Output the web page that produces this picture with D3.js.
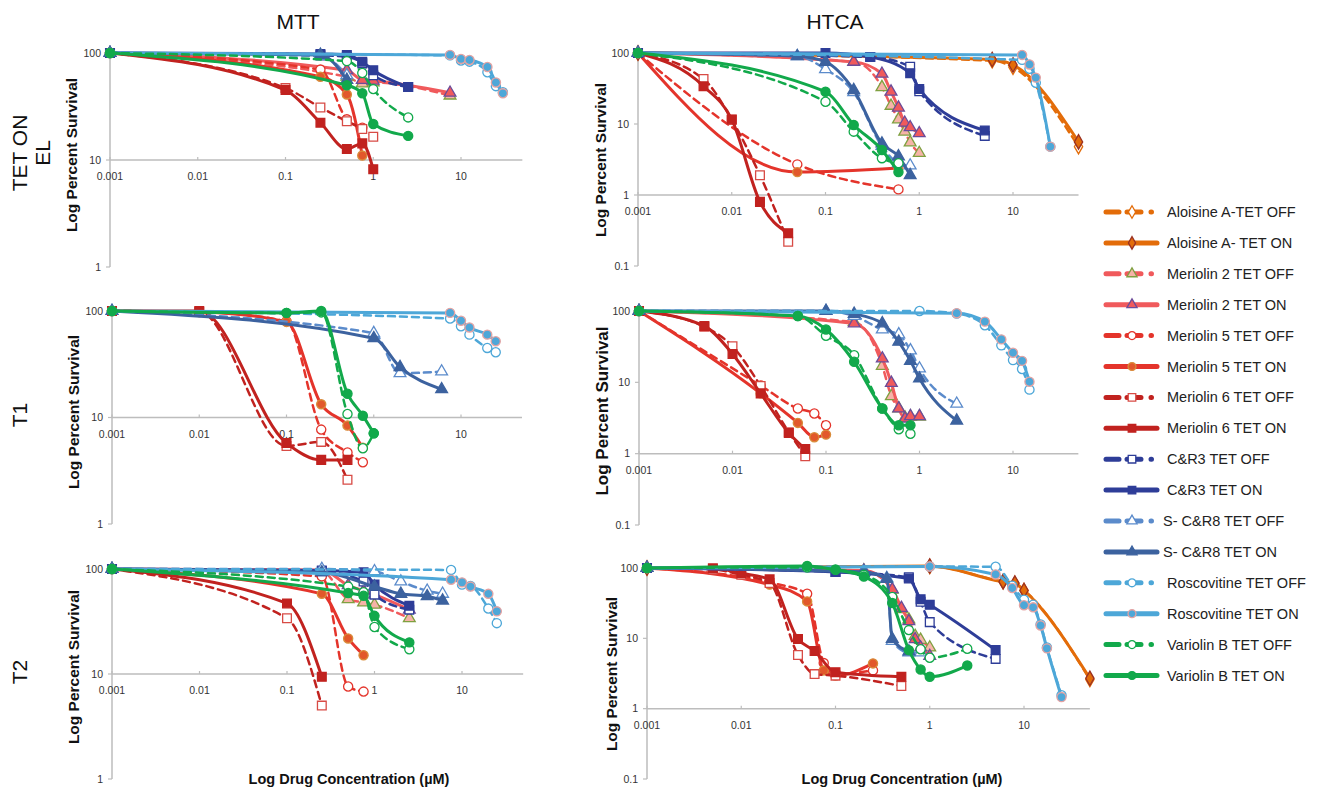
<!DOCTYPE html>
<html>
<head>
<meta charset="utf-8">
<script src="https://cdn.jsdelivr.net/npm/d3@7"></script>
<style>
  body { margin: 0; background: #fff; }
  svg text { font-family: Arial, "Liberation Sans", Helvetica, sans-serif; }
</style>
</head>
<body>
<svg id="chart" width="1320" height="790"></svg>
<script>
// series, in legend order
const seriesNames = [
  'Aloisine A-TET OFF', 'Aloisine A- TET ON',
  'Meriolin 2 TET OFF', 'Meriolin 2 TET ON',
  'Meriolin 5 TET OFF', 'Meriolin 5 TET ON',
  'Meriolin 6 TET OFF', 'Meriolin 6 TET ON',
  'C&R3 TET OFF', 'C&R3 TET ON',
  'S- C&R8 TET OFF', 'S- C&R8 TET ON',
  'Roscovitine TET OFF', 'Roscovitine TET ON',
  'Variolin B TET OFF', 'Variolin B TET ON'
];

const xTicks = [0.001, 0.01, 0.1, 1, 10];
const mttYTicks = [1, 10, 100];
const htcaYTicks = [0.1, 1, 10, 100];

// [concentration uM, percent survival]
const mttEL = {
  'Meriolin 2 TET OFF': [[0.001,100],[0.5,60],[0.75,52],[1,53],[7.5,40]],
  'Meriolin 2 TET ON': [[0.001,100],[0.5,69],[0.75,56],[1,55],[7.5,42.5]],
  'Meriolin 5 TET OFF': [[0.001,100],[0.25,70],[0.5,24],[0.75,20]],
  'Meriolin 5 TET ON': [[0.001,100],[0.25,60],[0.5,41],[0.75,11]],
  'Meriolin 6 TET OFF': [[0.001,100],[0.1,47],[0.25,31],[0.5,23],[0.75,19.5],[1,16.5]],
  'Meriolin 6 TET ON': [[0.001,100],[0.1,45],[0.25,22.3],[0.5,12.7],[0.75,14.3],[1,8.2]],
  'C&R3 TET OFF': [[0.001,100],[0.25,95],[0.5,92],[0.75,80],[1,62],[2.5,48]],
  'C&R3 TET ON': [[0.001,100],[0.25,98],[0.5,96],[0.75,83],[1,69],[2.5,48]],
  'S- C&R8 TET OFF': [[0.001,100],[0.25,94],[0.5,62]],
  'S- C&R8 TET ON': [[0.001,100],[0.25,96],[0.5,56]],
  'Roscovitine TET OFF': [[0.001,100],[7.5,95],[10,85],[12.5,83],[20,66],[25,49],[30,43]],
  'Roscovitine TET ON': [[0.001,100],[7.5,96],[10,88],[12.5,86],[20,74],[25,53],[30,42]],
  'Variolin B TET OFF': [[0.001,100],[0.5,84],[0.75,65],[1,46],[2.5,25]],
  'Variolin B TET ON': [[0.001,100],[0.5,50],[0.75,42],[1,21.7],[2.5,16.8]]
};

const htcaEL = {
  'Aloisine A-TET OFF': [[0.001,100],[6,78],[10,63],[50,4.8]],
  'Aloisine A- TET ON': [[0.001,100],[6,81],[10,68],[50,5.6]],
  'Meriolin 2 TET OFF': [[0.001,100],[0.2,75],[0.4,33],[0.5,18],[0.6,11.6],[0.7,7.8],[0.8,5.5],[1,3.9]],
  'Meriolin 2 TET ON': [[0.001,100],[0.2,75],[0.4,51],[0.5,28.5],[0.6,17],[0.7,10.4],[0.8,9],[1,7.4]],
  'Meriolin 5 TET OFF': [[0.001,100],[0.05,2.7],[0.6,1.2]],
  'Meriolin 5 TET ON': [[0.001,100],[0.05,2.1],[0.6,2.4]],
  'Meriolin 6 TET OFF': [[0.001,100],[0.005,43],[0.01,11.5],[0.02,1.9],[0.04,0.22]],
  'Meriolin 6 TET ON': [[0.001,100],[0.005,34],[0.01,11.6],[0.02,0.8],[0.04,0.29]],
  'C&R3 TET OFF': [[0.001,100],[0.3,88],[0.8,64],[1,29],[5,6.8]],
  'C&R3 TET ON': [[0.001,100],[0.1,100],[0.3,88],[0.8,52],[1,31],[5,8.1]],
  'S- C&R8 TET OFF': [[0.001,100],[0.05,90],[0.1,59],[0.2,28],[0.4,4.9],[0.6,2.8],[0.8,2.6]],
  'S- C&R8 TET ON': [[0.001,100],[0.05,90],[0.1,75],[0.2,30],[0.4,5.3],[0.6,3.5],[0.8,1.9]],
  'Roscovitine TET OFF': [[0.001,100],[12.5,80],[15,60],[17.5,38],[25,4.8]],
  'Roscovitine TET ON': [[0.001,100],[12.5,94],[15,69],[17.5,45],[25,4.8]],
  'Variolin B TET OFF': [[0.001,100],[0.1,20.6],[0.2,7.8],[0.4,3.3],[0.6,2.8]],
  'Variolin B TET ON': [[0.001,100],[0.1,28.5],[0.2,9.7],[0.4,4.3],[0.6,2.1]]
};

const mttT1 = {
  'Meriolin 5 TET OFF': [[0.001,100],[0.01,98],[0.1,80],[0.25,7.7],[0.5,4.7],[0.75,3.8]],
  'Meriolin 5 TET ON': [[0.001,100],[0.01,98],[0.1,79],[0.25,13.3],[0.5,8.4],[0.75,5.2]],
  'Meriolin 6 TET OFF': [[0.001,100],[0.01,98],[0.1,5.4],[0.25,5.9],[0.5,2.6]],
  'Meriolin 6 TET ON': [[0.001,100],[0.01,100],[0.1,5.75],[0.25,4.0],[0.5,4.0]],
  'S- C&R8 TET OFF': [[0.001,100],[1,62],[2,26],[6,27]],
  'S- C&R8 TET ON': [[0.001,100],[1,55.5],[2,29.7],[6,18.4]],
  'Roscovitine TET OFF': [[0.001,100],[7.5,85],[10,72],[12.5,60],[20,45],[25,41]],
  'Roscovitine TET ON': [[0.001,100],[7.5,96],[10,81],[12.5,70],[20,60],[25,52]],
  'Variolin B TET OFF': [[0.001,100],[0.1,96],[0.25,97],[0.5,10.8],[0.75,5.15],[1,7.1]],
  'Variolin B TET ON': [[0.001,100],[0.1,96],[0.25,100],[0.5,16.7],[0.75,10.4],[1,7.1]]
};

const htcaT1 = {
  'Meriolin 2 TET OFF': [[0.001,100],[0.2,70],[0.4,17],[0.5,6.4],[0.6,4.3],[0.7,3.2],[0.8,3.3],[1,3.3]],
  'Meriolin 2 TET ON': [[0.001,100],[0.2,67],[0.4,21.6],[0.5,9.8],[0.6,4.3],[0.7,3.1],[0.8,3.35],[1,3.35]],
  'Meriolin 5 TET OFF': [[0.001,100],[0.02,9],[0.05,4.3],[0.075,3.65],[0.1,2.5]],
  'Meriolin 5 TET ON': [[0.001,100],[0.02,7],[0.05,2.7],[0.075,1.7],[0.1,1.85]],
  'Meriolin 6 TET OFF': [[0.001,100],[0.005,60],[0.01,32],[0.02,8.9],[0.04,2.0],[0.06,0.92]],
  'Meriolin 6 TET ON': [[0.001,100],[0.005,61.5],[0.01,25],[0.02,7],[0.04,1.95],[0.06,1.16]],
  'S- C&R8 TET OFF': [[0.001,100],[0.1,100],[0.2,85],[0.4,55],[0.6,47],[0.8,28],[1,15.6],[2.5,5]],
  'S- C&R8 TET ON': [[0.001,100],[0.1,100],[0.2,91],[0.4,67],[0.6,37],[0.8,20],[1,11.3],[2.5,2.9]],
  'Roscovitine TET OFF': [[0.001,100],[1,100],[2.5,92],[5,63],[7.5,33],[10,20.5],[12.5,15.4],[15,7.9]],
  'Roscovitine TET ON': [[0.001,100],[2.5,93],[5,71],[7.5,40],[10,26],[12.5,20],[15,10.2]],
  'Variolin B TET OFF': [[0.001,100],[0.05,85],[0.1,45],[0.2,24],[0.4,4.3],[0.6,2.2],[0.8,1.9]],
  'Variolin B TET ON': [[0.001,100],[0.05,85],[0.1,55],[0.2,19.4],[0.4,4.3],[0.6,2.5],[0.8,2.5]]
};

const mttT2 = {
  'Meriolin 2 TET OFF': [[0.001,100],[0.25,95],[0.5,51.6],[0.75,48],[1,45.6],[2.5,34]],
  'Meriolin 2 TET ON': [[0.001,100],[0.25,98],[0.5,70],[0.75,62],[1,57],[2.5,41]],
  'Meriolin 5 TET OFF': [[0.001,100],[0.25,85],[0.5,7.6],[0.75,6.8]],
  'Meriolin 5 TET ON': [[0.001,100],[0.25,58],[0.5,21.8],[0.75,15.1]],
  'Meriolin 6 TET OFF': [[0.001,100],[0.1,34],[0.25,5.0]],
  'Meriolin 6 TET ON': [[0.001,100],[0.1,47],[0.25,9.4]],
  'C&R3 TET OFF': [[0.001,100],[0.25,95],[0.75,76],[1,57],[2.5,41]],
  'C&R3 TET ON': [[0.001,100],[0.25,97],[0.75,93],[1,71],[2.5,44.7]],
  'S- C&R8 TET OFF': [[0.001,100],[0.25,100],[1,95],[2,76],[4,62],[6,58]],
  'S- C&R8 TET ON': [[0.001,100],[0.25,93],[1,68],[2,58],[4,55],[6,50]],
  'Roscovitine TET OFF': [[0.001,100],[7.5,98],[10,71],[12.5,69],[20,42],[25,30.5]],
  'Roscovitine TET ON': [[0.001,100],[7.5,79],[10,74.6],[12.5,68],[20,58],[25,39.5]],
  'Variolin B TET OFF': [[0.001,100],[0.5,68],[0.75,60],[1,28],[2.5,17.2]],
  'Variolin B TET ON': [[0.001,100],[0.5,59],[0.75,55.6],[1,35.8],[2.5,20]]
};

const htcaT2 = {
  'Aloisine A-TET OFF': [[0.001,100],[1,105],[6,64],[8,60],[10,48],[50,2.6]],
  'Aloisine A- TET ON': [[0.001,100],[1,107],[6,64],[8,61],[10,48],[50,2.7]],
  'Meriolin 2 TET OFF': [[0.001,100],[0.2,92],[0.4,49],[0.5,26],[0.6,18.5],[0.7,10.8],[0.8,9.5],[1,7.4]],
  'Meriolin 2 TET ON': [[0.001,100],[0.2,92],[0.4,50],[0.5,27],[0.6,17.5],[0.7,9.7],[0.8,7.4],[1,5.6]],
  'Meriolin 5 TET OFF': [[0.001,100],[0.02,62],[0.05,43],[0.075,4.45],[0.1,3.1],[0.25,3.5]],
  'Meriolin 5 TET ON': [[0.001,100],[0.02,58],[0.05,33.5],[0.075,3.5],[0.1,2.95],[0.25,4.4]],
  'Meriolin 6 TET OFF': [[0.001,100],[0.005,95],[0.01,80],[0.02,61],[0.04,5.8],[0.06,3.1],[0.1,2.95],[0.5,2.1]],
  'Meriolin 6 TET ON': [[0.001,100],[0.005,99],[0.01,84],[0.02,69],[0.04,9.8],[0.06,6.6],[0.1,3.3],[0.5,2.85]],
  'C&R3 TET OFF': [[0.001,100],[0.1,88],[0.6,74],[0.8,33],[1,17],[5,5.1]],
  'C&R3 TET ON': [[0.001,100],[0.1,88],[0.6,71],[0.8,36],[1,30],[5,6.8]],
  'S- C&R8 TET OFF': [[0.001,100],[0.2,88],[0.35,72],[0.4,9.2],[0.6,6.3],[0.8,6.3]],
  'S- C&R8 TET ON': [[0.001,100],[0.2,88],[0.35,70],[0.4,9.8],[0.6,6.5]],
  'Roscovitine TET OFF': [[0.001,100],[1,105],[5,104],[7.5,56],[10,35.4],[12.5,30],[15,15.8],[17.5,7.4],[25,1.55]],
  'Roscovitine TET ON': [[0.001,100],[1,105],[5,81],[7.5,52],[10,29.5],[12.5,27.6],[15,15.2],[17.5,7.2],[25,1.46]],
  'Variolin B TET OFF': [[0.001,100],[0.05,102],[0.1,95],[0.2,80],[0.4,38.7],[0.6,13.1],[0.8,7],[1,5.3],[2.5,7.1]],
  'Variolin B TET ON': [[0.001,100],[0.05,107],[0.1,94],[0.2,75.5],[0.4,31.8],[0.6,6.8],[0.8,3.6],[1,2.85],[2.5,4.1]]
};

// look of each series (same order as seriesNames)
const seriesStyles = [
  { color: '#E36C09', dash: true,  shape: 'diamond',  fill: '#fff',    edge: '#E36C09' },
  { color: '#E36C09', dash: false, shape: 'diamond',  fill: '#E36C09', edge: '#9B3122' },
  { color: '#F05A5C', dash: true,  shape: 'triangle', fill: '#F6B3A8', edge: '#7FA040' },
  { color: '#F05A5C', dash: false, shape: 'triangle', fill: '#F05A5C', edge: '#6B4C9A' },
  { color: '#E4342B', dash: true,  shape: 'circle',   fill: '#fff',    edge: '#E4342B' },
  { color: '#E4342B', dash: false, shape: 'circle',   fill: '#E2582B', edge: '#D98B3A' },
  { color: '#C1221F', dash: true,  shape: 'square',   fill: '#fff',    edge: '#D84B45' },
  { color: '#C1221F', dash: false, shape: 'square',   fill: '#C1221F', edge: '#C1221F' },
  { color: '#2E3D98', dash: true,  shape: 'square',   fill: '#fff',    edge: '#2E3D98' },
  { color: '#2E3D98', dash: false, shape: 'square',   fill: '#2E3D98', edge: '#2E3D98' },
  { color: '#5B8BCB', dash: true,  shape: 'triangle', fill: '#fff',    edge: '#5B8BCB' },
  { color: '#3C629F', dash: false, shape: 'triangle', fill: '#3C629F', edge: '#3C629F' },
  { color: '#4DA7D8', dash: true,  shape: 'circle',   fill: '#fff',    edge: '#4DA7D8' },
  { color: '#4DA7D8', dash: false, shape: 'circle',   fill: '#4DA7D8', edge: '#E3A3A3' },
  { color: '#12A94B', dash: true,  shape: 'circle',   fill: '#fff',    edge: '#12A94B' },
  { color: '#12A94B', dash: false, shape: 'circle',   fill: '#12A94B', edge: '#12A94B' }
];

const symbolTypes = {
  circle: d3.symbolCircle, square: d3.symbolSquare,
  triangle: d3.symbolTriangle, diamond: d3.symbolDiamond
};
const symbolSizes = { circle: 66, square: 76, triangle: 60, diamond: 60 };

// panel placement on the page
const panels = [
  { data: mttEL,  yTicks: mttYTicks,  x0: 110, dec: 87.75, yTop: 53,  yBot: 267, axisAt: 10, titleX: 72,  titleY: 155, titleSize: 15.5 },
  { data: htcaEL, yTicks: htcaYTicks, x0: 638, dec: 93.75, yTop: 53,  yBot: 266, axisAt: 1,  titleX: 601, titleY: 160, titleSize: 15.5 },
  { data: mttT1,  yTicks: mttYTicks,  x0: 112, dec: 87.25, yTop: 311, yBot: 524, axisAt: 10, titleX: 74,  titleY: 412, titleSize: 15.5 },
  { data: htcaT1, yTicks: htcaYTicks, x0: 639, dec: 93.5,  yTop: 311, yBot: 525, axisAt: 1,  titleX: 602, titleY: 411, titleSize: 17 },
  { data: mttT2,  yTicks: mttYTicks,  x0: 112, dec: 87.5,  yTop: 569, yBot: 779, axisAt: 10, titleX: 74,  titleY: 667, titleSize: 15.5 },
  { data: htcaT2, yTicks: htcaYTicks, x0: 647, dec: 94.25, yTop: 568, yBot: 779, axisAt: 1,  titleX: 612, titleY: 674, titleSize: 15.5 }
];

const svg = d3.select('#chart');
const axisColor = '#BDBDBD';

panels.forEach(p => {
  const x = d3.scaleLog().domain([0.001, 10]).range([p.x0, p.x0 + 4 * p.dec]);
  const y = d3.scaleLog().domain([p.yTicks[0], 100]).range([p.yBot, p.yTop]);
  const g = svg.append('g');

  // y axis
  g.append('line')
    .attr('x1', p.x0).attr('x2', p.x0)
    .attr('y1', y(100)).attr('y2', y(p.yTicks[0]))
    .attr('stroke', axisColor).attr('stroke-width', 1.5);
  p.yTicks.forEach(t => {
    g.append('line')
      .attr('x1', p.x0 - 4).attr('x2', p.x0)
      .attr('y1', y(t)).attr('y2', y(t))
      .attr('stroke', axisColor).attr('stroke-width', 1.2);
    g.append('text')
      .attr('x', p.x0 - 9).attr('y', y(t) + 3.5)
      .attr('text-anchor', 'end')
      .attr('font-size', 10.5).attr('fill', '#333')
      .text(t);
  });

  // x axis, crossing at axisAt
  const ay = y(p.axisAt);
  g.append('line')
    .attr('x1', p.x0).attr('x2', x(50))
    .attr('y1', ay).attr('y2', ay)
    .attr('stroke', axisColor).attr('stroke-width', 1.5);
  xTicks.forEach(t => {
    g.append('line')
      .attr('x1', x(t)).attr('x2', x(t))
      .attr('y1', ay - 3).attr('y2', ay)
      .attr('stroke', axisColor).attr('stroke-width', 1.2);
    g.append('text')
      .attr('x', x(t)).attr('y', ay + 20)
      .attr('text-anchor', 'middle')
      .attr('font-size', 10.5).attr('fill', '#333')
      .text(t);
  });

  // y title
  g.append('text')
    .attr('transform', `translate(${p.titleX},${p.titleY}) rotate(-90)`)
    .attr('text-anchor', 'middle').attr('dy', '0.35em')
    .attr('font-size', p.titleSize).attr('font-weight', 'bold').attr('fill', '#111')
    .text('Log Percent Survival');

  const line = d3.line()
    .x(d => x(d[0]))
    .y(d => y(d[1]))
    .curve(d3.curveMonotoneX);

  seriesNames.forEach((name, i) => {
    const pts = p.data[name];
    if (!pts) return;
    const st = seriesStyles[i];
    g.append('path')
      .attr('d', line(pts))
      .attr('fill', 'none')
      .attr('stroke', st.color)
      .attr('stroke-width', st.dash ? 2.5 : 3)
      .attr('stroke-dasharray', st.dash ? '7,5' : null)
      .attr('stroke-linecap', 'round')
      .attr('stroke-linejoin', 'round');
    g.append('g').selectAll('path')
      .data(pts)
      .enter().append('path')
      .attr('transform', d => `translate(${x(d[0])},${y(d[1])})`)
      .attr('d', d3.symbol().type(symbolTypes[st.shape]).size(symbolSizes[st.shape]))
      .attr('fill', st.fill)
      .attr('stroke', st.edge)
      .attr('stroke-width', 1.3);
  });
});

// column titles
[['MTT', 298], ['HTCA', 835]].forEach(([t, cx]) => {
  svg.append('text').attr('x', cx).attr('y', 29)
    .attr('text-anchor', 'middle').attr('font-size', 21).attr('fill', '#111')
    .text(t);
});

// row labels
const rowLabel = (lines, cy) => {
  const t = svg.append('text')
    .attr('transform', `translate(0,${cy}) rotate(-90)`)
    .attr('text-anchor', 'middle').attr('font-size', 21).attr('fill', '#111');
  lines.forEach((l, k) => {
    t.append('tspan').attr('x', 0).attr('y', 27 + k * 23).text(l);
  });
};
rowLabel(['TET ON', 'EL'], 153);
rowLabel(['T1'], 415);
rowLabel(['T2'], 672);

// x titles
[349, 902].forEach(cx => {
  svg.append('text').attr('x', cx).attr('y', 784)
    .attr('text-anchor', 'middle').attr('font-size', 14.5)
    .attr('font-weight', 'bold').attr('fill', '#111')
    .text('Log Drug Concentration (\u00B5M)');
});

// legend
const legend = svg.append('g');
seriesNames.forEach((name, i) => {
  const st = seriesStyles[i];
  const ly = 212 + i * 30.9;
  legend.append('line')
    .attr('x1', 1106).attr('x2', 1157).attr('y1', ly).attr('y2', ly)
    .attr('stroke', st.color).attr('stroke-width', 5)
    .attr('stroke-linecap', 'round')
    .attr('stroke-dasharray', st.dash ? '13,8,14,10,0.5,100' : null);
  legend.append('path')
    .attr('transform', `translate(1132,${ly})`)
    .attr('d', d3.symbol().type(symbolTypes[st.shape]).size(symbolSizes[st.shape] * 0.75))
    .attr('fill', st.fill).attr('stroke', st.edge).attr('stroke-width', 1.3);
  legend.append('text')
    .attr('x', name.startsWith('S-') ? 1163 : 1167).attr('y', ly + 5)
    .attr('font-size', 14.5).attr('fill', '#222')
    .text(name);
});
</script>
</body>
</html>
